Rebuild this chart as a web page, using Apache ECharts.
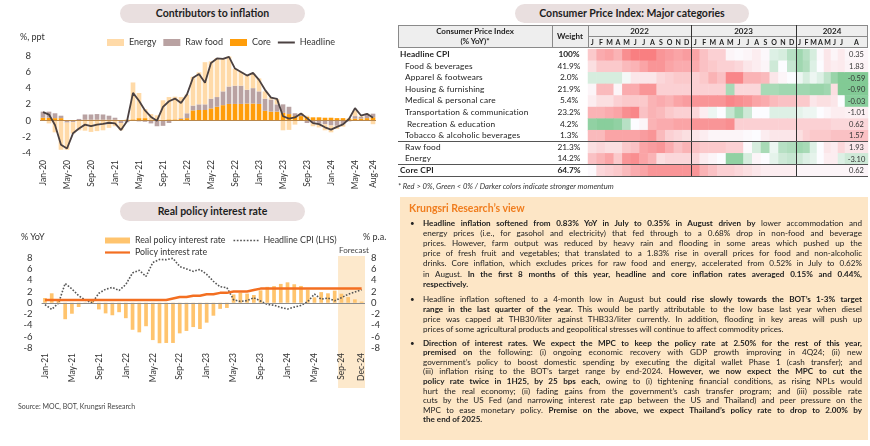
<!DOCTYPE html>
<html>
<head>
<meta charset="utf-8">
<script src="https://cdn.jsdelivr.net/npm/echarts@6.0.0/dist/echarts.min.js"></script>
<style>
html,body{margin:0;padding:0;background:#fff;}
body{width:870px;height:446px;position:relative;overflow:hidden;font-family:Lato,'Noto Sans',sans-serif;color:#222;}
#chart{position:absolute;left:0;top:0;width:870px;height:446px;z-index:1;}
.o{position:absolute;white-space:nowrap;z-index:2;pointer-events:none;}
.pill{position:absolute;z-index:2;background:#e9dfdf;border-radius:10px;text-align:center;font-weight:bold;font-size:10.5px;color:#1e1e1e;}
.hl{position:absolute;z-index:2;background:#666;height:1px;}
.vl{position:absolute;z-index:2;background:#333;width:1px;}
.tl{position:absolute;z-index:2;white-space:nowrap;font-size:8.1px;line-height:10px;height:10px;color:#222;}
</style>
</head>
<body>
<div id="chart"></div>
<div id="ov"></div>
<script>
// ---------------- DATA ----------------
const months1 = ['Jan-20','Feb-20','Mar-20','Apr-20','May-20','Jun-20','Jul-20','Aug-20','Sep-20','Oct-20','Nov-20','Dec-20',
'Jan-21','Feb-21','Mar-21','Apr-21','May-21','Jun-21','Jul-21','Aug-21','Sep-21','Oct-21','Nov-21','Dec-21',
'Jan-22','Feb-22','Mar-22','Apr-22','May-22','Jun-22','Jul-22','Aug-22','Sep-22','Oct-22','Nov-22','Dec-22',
'Jan-23','Feb-23','Mar-23','Apr-23','May-23','Jun-23','Jul-23','Aug-23','Sep-23','Oct-23','Nov-23','Dec-23',
'Jan-24','Feb-24','Mar-24','Apr-24','May-24','Jun-24','Jul-24','Aug-24'];
const headline1 = [1.05,0.74,-0.54,-2.99,-3.44,-1.57,-0.98,-0.50,-0.70,-0.50,-0.41,-0.27,
-0.34,-1.17,-0.08,3.41,2.44,1.25,0.45,-0.02,1.68,2.38,2.71,2.17,
3.23,5.28,5.73,4.65,7.10,7.66,7.61,7.86,6.41,5.98,5.55,5.89,
5.02,3.79,2.83,2.67,0.53,0.23,0.38,0.88,0.30,-0.31,-0.44,-0.83,
-1.11,-0.77,-0.47,0.19,1.54,0.62,0.83,0.35];
const core1 = [0.35,0.35,0.3,0.3,0,0,0.05,0.1,0.1,0.1,0.1,0.1,
0.1,0,0.05,0.15,0.3,0.3,0.1,0.05,0.1,0.15,0.15,0.2,
0.3,1.25,1.3,1.3,1.5,1.7,1.9,2.05,2.05,2.05,2.1,2.1,
2.05,1.2,1.1,1.1,0.95,0.8,0.55,0.55,0.45,0.4,0.4,0.35,
0.35,0.3,0.3,0.2,0.25,0.25,0.3,0.4];
const raw1 = [0.75,0.75,0.6,0.3,-0.25,-0.2,0.15,0.65,0.65,0.7,0.65,0.5,
0.25,-0.3,-0.2,-0.05,-0.1,-0.15,-0.35,-0.7,-0.65,-0.3,0,0.1,
0.6,0.6,0.7,0.7,1.2,1.2,1.7,2.15,2.25,2.25,1.7,1.9,
1.55,1.5,1.5,0.9,1.05,0.9,0.35,0.2,-0.3,-0.3,-0.4,-0.45,
-0.6,-0.65,-0.45,-0.1,0.3,0.2,0.45,0.45];
const energy1 = [-0.05,-0.35,-1.45,-3.6,-3.35,-1.4,-1.2,-1.25,-1.4,-1.3,-1.2,-0.9,
-0.7,-0.9,0.1,4.55,3.1,1.1,0.7,0.6,2.4,2.75,2.8,2.6,
2.3,3.55,3.95,5.2,4.6,4.8,4.0,3.7,2.1,1.7,1.8,1.8,
1.6,0.9,0.25,0.65,-1.2,-1.15,-0.5,0.15,0.15,-0.4,-0.45,-0.75,
-0.85,-0.4,-0.3,0.1,0.7,0.1,0.1,-0.45];

const months2 = ['Jan-21','Feb-21','Mar-21','Apr-21','May-21','Jun-21','Jul-21','Aug-21','Sep-21','Oct-21','Nov-21','Dec-21',
'Jan-22','Feb-22','Mar-22','Apr-22','May-22','Jun-22','Jul-22','Aug-22','Sep-22','Oct-22','Nov-22','Dec-22',
'Jan-23','Feb-23','Mar-23','Apr-23','May-23','Jun-23','Jul-23','Aug-23','Sep-23','Oct-23','Nov-23','Dec-23',
'Jan-24','Feb-24','Mar-24','Apr-24','May-24','Jun-24','Jul-24','Aug-24','Sep-24','Oct-24','Nov-24','Dec-24'];
const realRate = [0.84,1.67,0.58,-2.91,-1.94,-0.75,0.05,0.52,-1.18,-1.88,-2.21,-1.67,
-2.73,-4.78,-5.23,-4.15,-6.60,-7.16,-7.11,-7.11,-5.41,-4.98,-4.30,-4.64,
-3.52,-2.29,-1.08,-0.92,1.47,1.77,1.62,1.37,2.20,2.81,2.94,3.33,
3.61,3.27,2.97,2.31,0.96,1.88,1.67,2.15,1.6,1.0,0.6,0.2];
const headline2 = [-0.34,-1.17,-0.08,3.41,2.44,1.25,0.45,-0.02,1.68,2.38,2.71,2.17,
3.23,5.28,5.73,4.65,7.10,7.66,7.61,7.86,6.41,5.98,5.55,5.89,
5.02,3.79,2.83,2.67,0.53,0.23,0.38,0.88,0.30,-0.31,-0.44,-0.83,
-1.11,-0.77,-0.47,0.19,1.54,0.62,0.83,0.35,0.9,1.5,1.9,2.3];
const policyRate = [0.5,0.5,0.5,0.5,0.5,0.5,0.5,0.5,0.5,0.5,0.5,0.5,
0.5,0.5,0.5,0.5,0.5,0.5,0.5,0.75,1.0,1.0,1.25,1.25,
1.5,1.5,1.75,1.75,2.0,2.0,2.0,2.25,2.5,2.5,2.5,2.5,
2.5,2.5,2.5,2.5,2.5,2.5,2.5,2.5,2.5,2.5,2.5,2.5];
const forecastStart = 'Sep-24', forecastEnd = 'Dec-24';

const rowNames = ['Headline CPI','Food & beverages','Apparel & footwears','Housing & furnishing','Medical & personal care',
'Transportation & communication','Recreation & education','Tobacco & alcoholic beverages','Raw food','Energy','Core CPI'];
const weights = ['100%','41.9%','2.0%','21.9%','5.4%','23.2%','4.2%','1.3%','21.3%','14.2%','64.7%'];
const years = ['2022','2023','2024'];
const letters22 = ['J','F','M','A','M','J','J','A','S','O','N','D'];
const letters23 = ['J','F','M','A','M','J','J','A','S','O','N','D'];
const letters24 = ['J','F','M','A','M','J','J'];
const lettersLast = ['A'];
const augLabels = ['0.35','1.83','-0.59','-0.90','-0.03','-1.01','0.62','1.57','1.93','-3.10','0.62'];
// momentum shading (-1 green .. +1 red), Jan-22 .. Aug-24
const momHeadline = [0.35,0.55,0.6,0.5,0.75,0.85,0.85,0.85,0.7,0.65,0.6,0.65, 0.6,0.4,0.3,0.3,0.05,0.02,0.05,0.1,0.03,-0.2,-0.25,-0.45, -0.6,-0.45,-0.25,0.02,0.15,0.05,0.12,0.04];
const momFood = [0.2,0.35,0.35,0.35,0.45,0.5,0.6,0.7,0.7,0.6,0.55,0.55, 0.55,0.4,0.35,0.3,0.3,0.25,0.15,0.1,0.05,-0.3,0.0,-0.35, -0.6,-0.5,-0.2,0.0,0.15,0.1,0.12,0.06];
const momApparel = [-0.25,-0.25,-0.25,-0.25,-0.05,0.15,0.15,0.15,0.25,0.3,0.35,0.35, 0.3,0.35,0.5,0.4,0.8,0.8,0.5,0.5,0.45,0.15,0.05,0.0, -0.1,-0.25,-0.1,-0.2,-0.4,-0.65,-0.8,-0.8];
const momHousing = [0.05,0.45,0.45,0.05,0.55,0.55,0.7,0.7,0.3,0.3,0.3,0.3, 0.3,0.3,0.3,0.3,-0.55,0.25,0.25,0.25,-0.55,-0.55,-0.6,-0.6, -0.6,-0.6,-0.65,-0.65,-0.6,0.2,-0.8,-0.8];
const momMedical = [0.1,0.2,0.2,0.3,0.35,0.35,0.35,0.5,0.55,0.5,0.6,0.65, 0.7,0.7,0.7,0.7,0.8,0.75,0.7,0.6,0.55,0.45,0.4,0.4, 0.35,0.35,0.15,0.2,0.2,0.15,0.0,-0.75];
const momTransport = [0.5,0.5,0.55,0.6,0.75,0.8,0.4,0.5,0.45,0.35,0.3,0.3, 0.25,0.1,-0.1,0.0,-0.35,-0.6,-0.3,0.0,0.0,-0.2,-0.2,-0.2, -0.15,-0.1,-0.1,0.0,0.05,0.1,0.1,0.08];
const momRecreation = [-0.7,-0.75,-0.75,-0.7,-0.45,0.0,0.05,0.5,0.55,0.55,0.6,0.6, 0.7,0.7,0.7,0.7,0.75,0.3,0.3,0.3,0.3,0.3,0.3,0.3, 0.3,0.3,0.3,0.3,0.3,0.25,0.25,0.25];
const momTobacco = [0.45,0.45,0.6,0.6,0.6,0.6,0.65,0.7,0.45,0.3,0.25,0.2, 0.15,0.1,0.05,0.05,0.05,0.05,0.02,0.0,0.1,0.15,0.15,0.15, 0.2,0.3,0.35,0.35,0.35,0.4,0.4,0.4];
const momRawFood = [0.2,0.25,0.2,0.2,0.35,0.4,0.6,0.65,0.7,0.55,0.4,0.5, 0.4,0.35,0.35,0.35,0.3,0.3,0.02,-0.25,-0.55,-0.1,-0.45,-0.5, -0.6,-0.55,-0.2,0.0,0.15,0.1,0.25,0.15];
const momEnergy = [0.4,0.5,0.6,0.35,0.7,0.75,0.6,0.5,0.2,0.25,0.25,0.25, 0.25,0.1,0.05,0.0,-0.7,-0.7,-0.25,0.05,0.0,-0.15,-0.3,-0.35, -0.3,-0.2,-0.15,0.0,0.1,0.1,-0.2,-0.3];
const momCore = [0.02,0.25,0.3,0.35,0.45,0.55,0.6,0.7,0.7,0.7,0.7,0.7, 0.7,0.5,0.4,0.3,0.3,0.25,0.2,0.15,0.1,0.1,0.1,0.1, 0.05,0.05,0.05,0.05,0.05,0.05,0.05,0.05];

// ---------------- OVERLAY (HTML text & table frame) ----------------
const ov = document.getElementById('ov');
function add(cls, style, html){ const d=document.createElement('div'); d.className=cls; d.style.cssText=style; if(html!==undefined) d.innerHTML=html; ov.appendChild(d); return d; }
function addText(style, txt){ const d=document.createElement('div'); d.className='o'; d.style.cssText=style; d.textContent=txt; ov.appendChild(d); return d; }

add('pill','left:120px;top:4px;width:185px;height:19px;line-height:19px;','Contributors to inflation');
add('pill','left:120px;top:202px;width:185px;height:19px;line-height:19px;','Real policy interest rate');
add('pill','left:515px;top:4px;width:234px;height:19px;line-height:19px;','Consumer Price Index: Major categories');
addText('left:20px;top:31px;font-size:9px;line-height:12px;color:#333;','%, ppt');
addText('left:21px;top:231px;font-size:9px;line-height:12px;color:#333;','% YoY');
addText('left:363px;top:231px;font-size:9px;line-height:12px;color:#333;','% p.a.');
addText('left:338px;top:245px;width:32px;text-align:center;font-size:8px;line-height:10px;color:#444;','Forecast');
addText('left:18px;top:401px;font-size:7px;line-height:10px;color:#444;','Source: MOC, BOT, Krungsri Research');

// table header
add('', 'position:absolute;z-index:0;left:398px;top:25px;width:470px;height:23px;background:#eeeeee;box-sizing:border-box;border:1px solid #8a8a8a;');
add('vl','left:552px;top:25px;height:23px;background:#8a8a8a;');
add('vl','left:588px;top:25px;height:23px;background:#8a8a8a;');
add('hl','left:588px;top:36px;width:280px;background:#8a8a8a;');
addText('left:398px;top:26px;width:154px;text-align:center;font-size:8px;line-height:10px;font-weight:bold;','Consumer Price Index');
addText('left:398px;top:35.5px;width:154px;text-align:center;font-size:8px;line-height:10px;font-weight:bold;','(% YoY)*');
addText('left:552px;top:31px;width:36px;text-align:center;font-size:8px;line-height:10px;font-weight:bold;','Weight');
[[588,691],[691,796],[796,868]].forEach((r,i)=>addText('left:'+r[0]+'px;top:26px;width:'+(r[1]-r[0])+'px;text-align:center;font-size:8px;line-height:10px;font-weight:bold;', years[i]));
const rowTop=49.2, rowH=11.57;
rowNames.forEach((n,i)=>{
  const bold = (i===0||i===10);
  const left = bold?400:(i===6?407:405);
  const y = rowTop + rowH*i;
  addText('left:'+left+'px;top:'+y+'px;height:'+rowH+'px;line-height:'+rowH+'px;font-size:8.3px;letter-spacing:0.15px;color:#222;'+(bold?'font-weight:bold;':''), n);
  addText('left:552px;top:'+y+'px;width:34px;text-align:center;height:'+rowH+'px;line-height:'+rowH+'px;font-size:8.3px;color:#222;'+(bold?'font-weight:bold;':''), weights[i]);
});
add('vl','left:691px;top:25px;height:152px;');
add('vl','left:796px;top:25px;height:152px;');
add('hl','left:398px;top:'+(rowTop+rowH*8-0.5)+'px;width:470px;background:#555;');
add('hl','left:398px;top:'+(rowTop+rowH*10-0.5)+'px;width:470px;background:#555;');
add('hl','left:398px;top:'+(rowTop+rowH*11)+'px;width:470px;background:#555;');
addText('left:398px;top:181px;font-size:7.6px;line-height:10px;font-style:italic;color:#333;','* Red > 0%, Green < 0% / Darker colors indicate stronger momentum');

// text box
add('', 'position:absolute;z-index:0;left:400px;top:197px;width:468px;height:243px;background:#fde6c6;');
add('o','left:409px;top:202px;font-size:10.5px;line-height:13px;font-weight:bold;color:#f07d1e;','Krungsri Research’s view');
const textLines = [
 [223.3, '<b>Headline inflation softened from 0.83% YoY in July to 0.35% in August driven by</b> lower accommodation and', 1],
 [233.3, 'energy prices (i.e., for gasohol and electricity) that fed through to a 0.68% drop in non-food and beverage', 1],
 [243.3, 'prices. However, farm output was reduced by heavy rain and flooding in some areas which pushed up the', 1],
 [253.3, 'price of fresh fruit and vegetables; that translated to a 1.83% rise in overall prices for food and non-alcoholic', 1],
 [263.3, 'drinks. Core inflation, which excludes prices for raw food and energy, accelerated from 0.52% in July to 0.62%', 1],
 [273.5, 'in August. <b>In the first 8 months of this year, headline and core inflation rates averaged 0.15% and 0.44%,</b>', 1],
 [283.7, '<b>respectively.</b>', 0],
 [298.5, 'Headline inflation softened to a 4-month low in August but <b>could rise slowly towards the BOT’s 1-3% target</b>', 1],
 [309.3, '<b>range in the last quarter of the year.</b> This would be partly attributable to the low base last year when diesel', 1],
 [319.3, 'price was capped at THB30/liter against THB33/liter currently. In addition, flooding in key areas will push up', 1],
 [329.3, 'prices of some agricultural products and geopolitical stresses will continue to affect commodity prices.', 0],
 [342.7, '<b>Direction of interest rates. We expect the MPC to keep the policy rate at 2.50% for the rest of this year,</b>', 1],
 [352.2, '<b>premised on</b> the following: (i) ongoing economic recovery with GDP growth improving in 4Q24; (ii) new', 1],
 [361.8, 'government’s policy to boost domestic spending by executing the digital wallet Phase 1 (cash transfer); and', 1],
 [371.4, '(iii) inflation rising to the BOT’s target range by end-2024. <b>However, we now expect the MPC to cut the</b>', 1],
 [381.0, '<b>policy rate twice in 1H25, by 25 bps each,</b> owing to (i) tightening financial conditions, as rising NPLs would', 1],
 [390.6, 'hurt the real economy; (ii) fading gains from the government’s cash transfer program; and (iii) possible rate', 1],
 [400.2, 'cuts by the US Fed (and narrowing interest rate gap between the US and Thailand) and peer pressure on the', 1],
 [409.8, 'MPC to ease monetary policy. <b>Premise on the above, we expect Thailand’s policy rate to drop to 2.00% by</b>', 1],
 [419.4, '<b>the end of 2025.</b>', 0]
];
const TW = 439;
textLines.forEach(l=>{
  const d = add('tl','left:423px;top:'+(l[0]-5)+'px;width:'+TW+'px;', '<span>'+l[1]+'</span>');
  d.dataset.j = l[2];
});
[223.3,298.5,342.7].forEach(y=>add('tl','left:410px;top:'+(y-5)+'px;font-size:8px;','•'));
document.querySelectorAll('.tl').forEach(el=>{
  const sp = el.firstChild; if(!sp || sp.nodeType!==1) return;
  const w = sp.getBoundingClientRect().width;
  const n = (sp.textContent.match(/ /g)||[]).length;
  if (w > TW) { sp.style.display='inline-block'; sp.style.transformOrigin='left center'; sp.style.transform='scaleX('+(TW/w)+')'; }
  else if (el.dataset.j==='1' && n>0) { sp.style.wordSpacing = ((TW-w)/n)+'px'; }
});

// ---------------- CHART ----------------
const chart = echarts.init(document.getElementById('chart'), null, {renderer:'canvas'});
const momRows = [momHeadline,momFood,momApparel,momHousing,momMedical,momTransport,momRecreation,momTobacco,momRawFood,momEnergy,momCore];
function heatData(start,n){ const d=[]; momRows.forEach((r,yi)=>{ for(let j=0;j<n;j++) d.push([j,yi,r[start+j]]); }); return d; }
const txt = {color:'#333', fontFamily:'Lato'};
function heatX(letters){ return {type:'category', data:letters, position:'top', axisLine:{show:false}, axisTick:{show:false},
  axisLabel:{interval:0, fontSize:7, fontWeight:'bold', color:'#222', margin:2.5, fontFamily:'Lato'}}; }
function heatY(gi){ return {type:'category', gridIndex:gi, data:rowNames, inverse:true, show:false}; }
function heatSeries(xi, yi, start, n, withLabel){
  return {type:'heatmap', xAxisIndex:xi, yAxisIndex:yi, data:heatData(start,n), silent:true,
    itemStyle:{borderWidth:0},
    label: withLabel ? {show:true, fontSize:7.5, color:'#333', fontFamily:'Lato', formatter:p=>augLabels[p.value[1]]} : {show:false},
    emphasis:{disabled:true}};
}
const solidIcon17 = 'path://M0,0h17v2h-17z';
const solidIcon25 = 'path://M0,0h25v2.2h-25z';
const dotIcon = 'path://M0,0h1.6v1.6h-1.6zM3.2,0h1.6v1.6h-1.6zM6.4,0h1.6v1.6h-1.6zM9.6,0h1.6v1.6h-1.6zM12.8,0h1.6v1.6h-1.6zM16,0h1.6v1.6h-1.6zM19.2,0h1.6v1.6h-1.6zM22.4,0h1.6v1.6h-1.6z';

const option = {
  animation:false,
  textStyle:{fontFamily:'Lato'},
  grid:[
    {left:40, top:55.7, width:336, height:97.3},
    {left:41.6, top:257.5, width:323.4, height:90.5},
    {left:588, top:rowTop, width:103, height:rowH*11},
    {left:691, top:rowTop, width:105, height:rowH*11},
    {left:796, top:rowTop, width:49, height:rowH*11},
    {left:845, top:rowTop, width:23, height:rowH*11}
  ],
  legend:[
    {left:102, top:33, itemWidth:17, itemHeight:7, itemGap:7, textStyle:{fontSize:9, color:'#333'},
     data:[{name:'Energy',icon:'rect'},{name:'Raw food',icon:'rect'},{name:'Core',icon:'rect'},{name:'Headline',icon:solidIcon17}]},
    {left:100, top:231, itemWidth:25, itemHeight:6, itemGap:8, textStyle:{fontSize:8.8, color:'#333'},
     data:[{name:'Real policy interest rate',icon:'rect'},{name:'Headline CPI (LHS)',icon:dotIcon}]},
    {left:100, top:243, itemWidth:25, itemHeight:6, itemGap:8, textStyle:{fontSize:8.8, color:'#333'},
     data:[{name:'Policy interest rate',icon:solidIcon25}]}
  ],
  xAxis:[
    {type:'category', gridIndex:0, data:months1, axisLine:{show:false}, axisTick:{show:false},
     axisLabel:Object.assign({rotate:90, fontSize:8.5, margin:7, interval:(i)=>i%4===0||i===months1.length-1}, txt)},
    {type:'category', gridIndex:1, data:months2, axisLine:{show:false}, axisTick:{show:false},
     axisLabel:Object.assign({rotate:90, fontSize:8.5, margin:5, interval:(i)=>i%4===0||i===months2.length-1}, txt)},
    Object.assign(heatX(letters22),{gridIndex:2}),
    Object.assign(heatX(letters23),{gridIndex:3}),
    Object.assign(heatX(letters24),{gridIndex:4}),
    Object.assign(heatX(lettersLast),{gridIndex:5})
  ],
  yAxis:[
    {type:'value', gridIndex:0, min:-4, max:8, interval:2, splitLine:{show:false}, axisLine:{show:false}, axisTick:{show:false},
     axisLabel:Object.assign({fontSize:9.5, margin:9}, txt)},
    {type:'value', gridIndex:1, min:-8, max:8, interval:2, splitLine:{show:false}, axisLine:{show:false}, axisTick:{show:false},
     axisLabel:Object.assign({fontSize:9.5, margin:9}, txt)},
    {type:'value', gridIndex:1, position:'right', min:-8, max:8, interval:2, splitLine:{show:false}, axisLine:{show:false}, axisTick:{show:false},
     axisLabel:Object.assign({fontSize:9.5, margin:6}, txt)},
    heatY(2), heatY(3), heatY(4), heatY(5)
  ],
  visualMap:{type:'continuous', min:-1, max:1, show:false, seriesIndex:[7,8,9,10],
    inRange:{color:['#63BE7B','#FCFCFF','#F8696B']}},
  series:[
    {name:'Core', type:'bar', stack:'c', xAxisIndex:0, yAxisIndex:0, data:core1, itemStyle:{color:'#ff9d0a'}, barCategoryGap:'22%',
     markLine:{silent:true, symbol:'none', label:{show:false}, lineStyle:{color:'#b8864a', width:1, type:'solid'}, data:[{yAxis:0}]}},
    {name:'Raw food', type:'bar', stack:'c', xAxisIndex:0, yAxisIndex:0, data:raw1, itemStyle:{color:'#b9a2a2'}},
    {name:'Energy', type:'bar', stack:'c', xAxisIndex:0, yAxisIndex:0, data:energy1, itemStyle:{color:'#ffdaa8'}},
    {name:'Headline', type:'line', xAxisIndex:0, yAxisIndex:0, data:headline1, symbol:'none', lineStyle:{color:'#4b4141', width:1.8}, itemStyle:{color:'#4b4141'}, z:5},
    {name:'Real policy interest rate', type:'bar', xAxisIndex:1, yAxisIndex:2, data:realRate, itemStyle:{color:'#ffc46e'}, barCategoryGap:'45%',
     markLine:{silent:true, symbol:'none', label:{show:false}, lineStyle:{color:'#8c8c8c', width:1, type:'solid'}, data:[{yAxis:0}]}},
    {name:'Headline CPI (LHS)', type:'line', xAxisIndex:1, yAxisIndex:1, data:headline2, symbol:'none', lineStyle:{color:'#555', width:1.6, type:'dotted'}, itemStyle:{color:'#555'}, z:4},
    {name:'Policy interest rate', type:'line', xAxisIndex:1, yAxisIndex:2, data:policyRate, symbol:'none', lineStyle:{color:'#f36f21', width:2.5}, itemStyle:{color:'#f36f21'}, z:5},
    heatSeries(2,3,0,12,false),
    heatSeries(3,4,12,12,false),
    heatSeries(4,5,24,7,false),
    heatSeries(5,6,31,1,true)
  ]
};
chart.setOption(option);
// forecast shading, positioned from the category axis
const xa = chart.convertToPixel({xAxisIndex:1}, forecastStart);
const xb = chart.convertToPixel({xAxisIndex:1}, forecastEnd);
const bw = chart.convertToPixel({xAxisIndex:1}, months2[1]) - chart.convertToPixel({xAxisIndex:1}, months2[0]);
chart.setOption({graphic:[{type:'rect', silent:true, z:-10, shape:{x:xa-bw/2, y:256, width:(xb-xa)+bw, height:132}, style:{fill:'#fde9cc'}}]});
</script>
</body>
</html>
